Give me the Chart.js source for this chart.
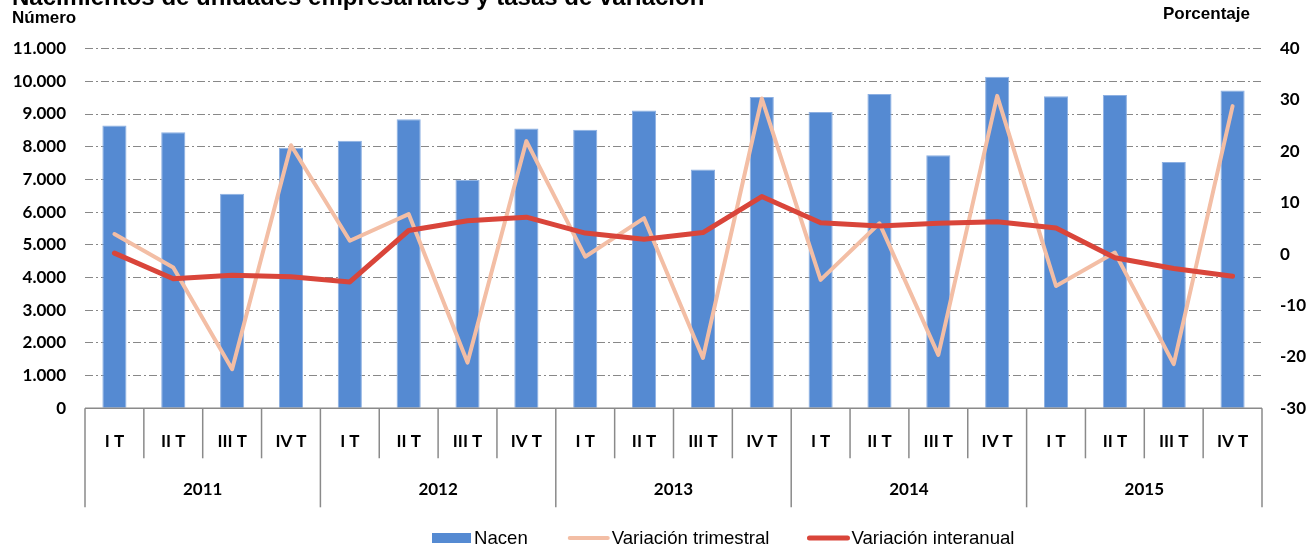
<!DOCTYPE html>
<html><head><meta charset="utf-8">
<script src="https://cdn.jsdelivr.net/npm/chart.js@4/dist/chart.umd.min.js"></script>
<style>html,body{margin:0;padding:0;background:#fff;}#wrap{position:relative;width:1309px;height:552px;}</style>
</head><body><div id="wrap"><canvas id="c" width="1309" height="552"></canvas></div>
<script>
const chartTitle = 'Nacimientos de unidades empresariales y tasas de variación';
const leftAxisTitle = 'Número';
const rightAxisTitle = 'Porcentaje';
const years = ['2011', '2012', '2013', '2014', '2015'];
const quarters = ['I T', 'II T', 'III T', 'IV T'];
const seriesNames = ['Nacen', 'Variación trimestral', 'Variación interanual'];
const nacen = [8650, 8440, 6560, 7970, 8180, 8840, 6990, 8560, 8520, 9110, 7300, 9520, 9060, 9610, 7740, 10140, 9540, 9580, 7530, 9720];
const varTrimestral = [3.9, -2.6, -22.4, 21.2, 2.6, 7.8, -21.1, 22.0, -0.5, 7.0, -20.2, 30.3, -5.0, 6.0, -19.6, 30.8, -6.2, 0.3, -21.4, 28.8];
const varInteranual = [0.2, -4.8, -4.1, -4.4, -5.4, 4.6, 6.5, 7.2, 4.1, 2.9, 4.2, 11.2, 6.1, 5.5, 6.0, 6.3, 5.1, -0.7, -2.8, -4.3];
const leftTickRange = [0, 11000, 1000];
const rightTickRange = [-30, 40, 10];

const labels = [];
years.forEach(y => quarters.forEach(q => labels.push([q, y])));

const COLORS = { bar: '#558AD2', barEdge: '#8DB0E2', trim: '#F3BEA5', inter: '#D9453A', grid: '#888888', axis: '#8a8a8a' };
const fmtThousands = v => String(v).replace(/\B(?=(\d{3})+(?!\d))/g, '.');

const textPlugin = {
  id: 'texts',
  afterDraw(chart) {
    const ctx = chart.ctx;
    ctx.save();
    ctx.fillStyle = '#000';
    ctx.textAlign = 'left';
    ctx.textBaseline = 'alphabetic';
    ctx.font = 'bold 24px "Liberation Sans", Arial, sans-serif';
    ctx.fillText(chartTitle, 12, 5);
    ctx.font = 'bold 17px "Liberation Sans", Arial, sans-serif';
    ctx.fillText(leftAxisTitle, 12, 23);
    ctx.fillText(rightAxisTitle, 1163, 19);
    // legend
    ctx.font = '18.6px "Liberation Sans", Arial, sans-serif';
    let x = 432; const ly = 538;
    const ds = chart.data.datasets;
    ctx.fillStyle = ds[0].backgroundColor;
    ctx.fillRect(x, ly - 5, 39, 10);
    x += 42;
    ctx.fillStyle = '#000';
    ctx.fillText(ds[0].label, x, 544);
    x += ctx.measureText(ds[0].label).width + 40;
    [1, 2].forEach((k) => {
      ctx.strokeStyle = ds[k].borderColor;
      ctx.lineWidth = ds[k].borderWidth;
      ctx.lineCap = 'round';
      ctx.beginPath(); ctx.moveTo(x + 2, ly); ctx.lineTo(x + 40, ly); ctx.stroke();
      x += 44;
      ctx.fillStyle = '#000';
      ctx.fillText(ds[k].label, x, 544);
      x += ctx.measureText(ds[k].label).width + 38;
    });
    ctx.restore();
  }
};

const xAxisPlugin = {
  id: 'xgroups',
  afterDatasetsDraw(chart) {
    const ctx = chart.ctx, xs = chart.scales.x, area = chart.chartArea;
    const n = chart.data.labels.length;
    const half = (xs.getPixelForValue(1) - xs.getPixelForValue(0)) / 2;
    const y0 = area.bottom;
    ctx.save();
    ctx.strokeStyle = COLORS.axis; ctx.lineWidth = 1.5;
    ctx.beginPath(); ctx.moveTo(area.left, y0); ctx.lineTo(area.right, y0); ctx.stroke();
    for (let i = 0; i <= n; i++) {
      const x = i < n ? xs.getPixelForValue(i) - half : xs.getPixelForValue(n - 1) + half;
      const isYear = i % quarters.length === 0;
      ctx.beginPath(); ctx.moveTo(x, y0); ctx.lineTo(x, y0 + (isYear ? 99 : 50)); ctx.stroke();
    }
    ctx.fillStyle = '#000'; ctx.font = 'bold 17px Lato, sans-serif';
    ctx.textAlign = 'center'; ctx.textBaseline = 'middle';
    for (let i = 0; i < n; i++) ctx.fillText(chart.data.labels[i][0], xs.getPixelForValue(i), y0 + 33);
    years.forEach((yr, j) => {
      const a = xs.getPixelForValue(j * quarters.length) - half;
      const b = xs.getPixelForValue(j * quarters.length + quarters.length - 1) + half;
      ctx.fillText(yr, (a + b) / 2, y0 + 81);
    });
    ctx.restore();
  }
};

new Chart(document.getElementById('c'), {
  data: {
    labels: labels,
    datasets: [
      { type: 'bar', label: seriesNames[0], data: nacen, yAxisID: 'y', backgroundColor: COLORS.bar,
        borderColor: COLORS.barEdge, borderWidth: 1, barPercentage: 0.41, categoryPercentage: 1, order: 3 },
      { type: 'line', label: seriesNames[1], data: varTrimestral, yAxisID: 'y1', borderColor: COLORS.trim,
        backgroundColor: COLORS.trim, borderWidth: 4, pointRadius: 0, tension: 0, order: 2, borderJoinStyle: 'round', borderCapStyle: 'round' },
      { type: 'line', label: seriesNames[2], data: varInteranual, yAxisID: 'y1', borderColor: COLORS.inter,
        backgroundColor: COLORS.inter, borderWidth: 5, pointRadius: 0, tension: 0, order: 1, borderJoinStyle: 'round', borderCapStyle: 'round' }
    ]
  },
  options: {
    responsive: false,
    animation: false,
    devicePixelRatio: 1,
    layout: { padding: { top: 48.6, bottom: 0, left: 0, right: 0 } },
    plugins: { legend: { display: false }, tooltip: { enabled: false }, title: { display: false } },
    scales: {
      x: {
        type: 'category', offset: true,
        grid: { display: false, drawTicks: false }, border: { display: false },
        ticks: { display: false },
        afterFit(s) { s.height = 143.7; }
      },
      y: {
        position: 'left', min: leftTickRange[0], max: leftTickRange[1],
        ticks: { stepSize: leftTickRange[2], padding: 19, color: '#000', font: { family: 'Lato', weight: 'bold', size: 17 },
          callback: v => fmtThousands(v) },
        grid: { drawTicks: false, color: ctx => (ctx.tick && ctx.tick.value === 0) ? 'rgba(0,0,0,0)' : COLORS.grid, lineWidth: 1 },
        border: { display: false, dash: [8, 3, 2, 3] },
        afterFit(s) { s.width = 85; }
      },
      y1: {
        position: 'right', min: rightTickRange[0], max: rightTickRange[1],
        ticks: { stepSize: rightTickRange[2], padding: 18, color: '#000', font: { family: 'Lato', weight: 'bold', size: 17 } },
        grid: { display: false, drawTicks: false }, border: { display: false },
        afterFit(s) { s.width = 47; }
      }
    }
  },
  plugins: [xAxisPlugin, textPlugin]
});
</script>
</body></html>
